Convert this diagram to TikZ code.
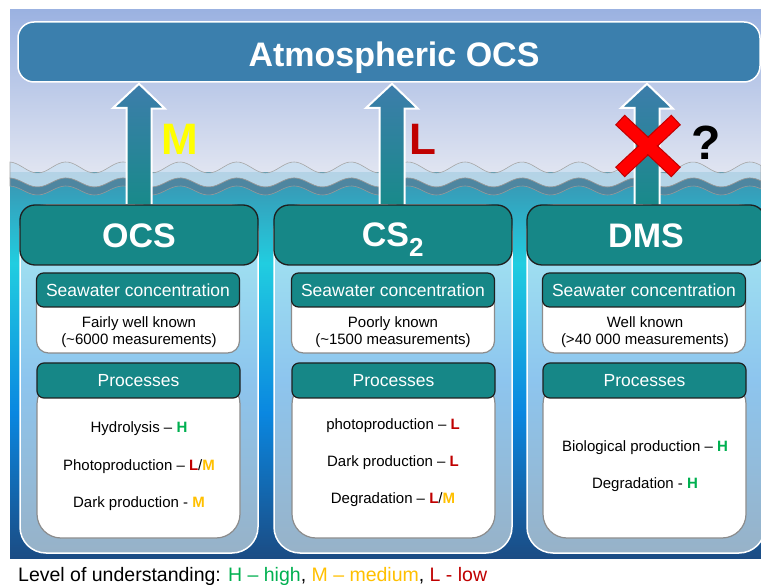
\documentclass[tikz,border=0pt]{standalone}
\usepackage{fontspec}
\setmainfont{Liberation Sans}
\usetikzlibrary{calc}
\definecolor{skytop}{HTML}{9BB2E1}
\definecolor{skybot}{HTML}{E1E5F1}
\definecolor{seaA}{HTML}{3B93B0}
\definecolor{seaB}{HTML}{21CDE0}
\definecolor{seaC}{HTML}{0A87E0}
\definecolor{seaD}{HTML}{1B4C84}
\definecolor{colT}{HTML}{A6EAF2}
\definecolor{colM}{HTML}{8DC5EE}
\definecolor{colB}{HTML}{97B2C8}
\definecolor{tealH}{HTML}{168787}
\definecolor{atmC}{HTML}{3B7FAD}
\definecolor{arrT}{HTML}{3D7DAB}
\definecolor{arrB}{HTML}{188A8A}
\definecolor{waveL}{HTML}{CADFF0}
\definecolor{waveD}{HTML}{4E86A0}
\definecolor{grn}{HTML}{00B050}
\definecolor{org}{HTML}{FFC000}
\definecolor{redL}{HTML}{C00000}
\definecolor{yelM}{HTML}{FFFF00}
\tikzset{
  fs/.style={font=\fontsize{#1}{#1}\selectfont},
  fsb/.style={font=\fontsize{#1}{#1}\selectfont\bfseries},
  colbox/.style={draw=white, line width=1.5pt, top color=colT, bottom color=colB, middle color=colM,
    rounded corners=26pt, minimum width=238pt, minimum height=348pt, inner sep=0pt},
  hdrbox/.style={draw=black!88, line width=1.3pt, fill=tealH, rounded corners=15pt,
    minimum width=238pt, minimum height=60pt, inner sep=0pt},
  subhdr/.style={draw=black!88, line width=1.2pt, fill=tealH, rounded corners=7pt,
    minimum width=203pt, minimum height=#1, inner sep=0pt},
  bodybox/.style={draw=black!45, line width=1.2pt, fill=white, rounded corners=#1,
    minimum width=203pt, inner sep=0pt},
  bigarrow/.style={draw=white, line width=2pt, top color=arrT, bottom color=arrB},
  ttl/.style={anchor=base, text=white, fsb=34},
  subt/.style={anchor=base, text=white, fs=17.5},
  bodyt/.style={anchor=base, text=black, fs=15},
  lvl/.style={anchor=base, fsb=44},
}
\begin{document}
\begin{tikzpicture}[x=1pt,y=-1pt]
\useasboundingbox (0,0) rectangle (761,585);
\clip (0,0) rectangle (761,585);
% background
\fill[white] (0,0) rectangle (761,585);
\fill[top color=skytop, bottom color=skybot] (10,10) rectangle (761,174);
\fill[top color=seaA, bottom color=seaB] (10,173) rectangle (761,263.5);
\fill[top color=seaB, bottom color=seaC] (10,263) rectangle (761,413.5);
\fill[top color=seaC, bottom color=seaD] (10,413) rectangle (761,558);
% waves
\draw[draw=black!35, line width=0.6pt, fill=waveL, fill opacity=0.85]
  plot[domain=10:761, samples=260] (\x,{167.5-5.5*cos(6.31579*(\x-237))})
  -- plot[domain=761:10, samples=260] (\x,{182.5-4.5*cos(6.31579*(\x-237))}) -- cycle;
\draw[draw=black!40, line width=0.6pt, fill=waveD]
  plot[domain=10:761, samples=260] (\x,{182.5-4.5*cos(6.31579*(\x-237))})
  -- plot[domain=761:10, samples=260] (\x,{190.5-4.5*cos(6.31579*(\x-237))}) -- cycle;
% atmosphere box
\node[draw=white, line width=1.5pt, fill=atmC, rounded corners=16pt, minimum width=742pt,
  minimum height=60pt, inner sep=0pt] (atm) at (389,52) {};
\node[ttl] (atmt) at (394,67) {Atmospheric OCS};
% column boxes
\node[colbox] (c1) at (139,379) {};
\node[colbox] (c2) at (393,379) {};
\node[colbox] (c3) at (646,379) {};
\coordinate (h1n) at (139,205);
\coordinate (h2n) at (392,205);
\coordinate (h3n) at (647,205);
% arrows
\foreach \h in {h1n,h2n,h3n}{
  \path[bigarrow] ([xshift=-12.5pt]\h) -- ++(0,-97) -- ++(-13.5,0)
    -- ([yshift=-1pt]\h |- atm.south) -- ++(26,25) -- ++(-13.5,0) -- ++(0,97) -- cycle;
}
% headers
\node[hdrbox] (h1) at (139,235) {};
\node[hdrbox] (h2) at (393,235) {};
\node[hdrbox] (h3) at (646,235) {};
\node[ttl] (h1t) at (139,248) {OCS};
\node[ttl] (h2t) at (393,247) {CS\textsubscript{\fontsize{26}{26}\selectfont 2}};
\node[ttl] (h3t) at (646,248) {DMS};
% seawater and processes boxes
\foreach \i/\x in {1/138,2/393,3/644}{
  \node[bodybox=12pt, minimum height=63pt] (sb\i) at (\x,321.5) {};
  \node[subhdr=34pt] (sh\i) at (\x,290) {};
  \node[subt] (sht\i) at (\x,297) {Seawater concentration};
  \node[bodybox=24pt, minimum height=158pt] (pb\i) at (\x+0.5,459) {};
  \node[subhdr=35pt] (ph\i) at (\x+0.5,380.5) {};
  \node[subt] (pht\i) at (\x+0.5,387) {Processes};
}
\node[bodyt] (s1a) at (139,328) {Fairly well known};
\node[bodyt] (s1b) at (139,345) {(\textasciitilde6000 measurements)};
\node[bodyt] (s2a) at (393,328) {Poorly known};
\node[bodyt] (s2b) at (393,345) {(\textasciitilde1500 measurements)};
\node[bodyt] (s3a) at (645,328) {Well known};
\node[bodyt] (s3b) at (645,345) {(>40 000 measurements)};
% processes text
\node[bodyt] (p1a) at (139,433) {Hydrolysis – \textbf{\textcolor{grn}{H}}};
\node[bodyt] (p1b) at (139,470) {Photoproduction – \textbf{\textcolor{redL}{L}}/\textbf{\textcolor{org}{M}}};
\node[bodyt] (p1c) at (139,507) {Dark production - \textbf{\textcolor{org}{M}}};
\node[bodyt] (p2a) at (393,430) {photoproduction – \textbf{\textcolor{redL}{L}}};
\node[bodyt] (p2b) at (393,467) {Dark production – \textbf{\textcolor{redL}{L}}};
\node[bodyt] (p2c) at (393,503) {Degradation – \textbf{\textcolor{redL}{L}}/\textbf{\textcolor{org}{M}}};
\node[bodyt] (p3a) at (645,452) {Biological production – \textbf{\textcolor{grn}{H}}};
\node[bodyt] (p3b) at (645,488) {Degradation - \textbf{\textcolor{grn}{H}}};
% flux labels
\node[lvl, text=yelM] (lm) at (180,155) {M};
\node[lvl, text=redL] (ll) at (423,155) {L};
\node[anchor=base, fsb=48, text=black] (lq) at (706,160) {?};
\node[draw=redL, line width=1pt, fill=red, minimum width=76pt, minimum height=13pt, inner sep=0pt, rotate=43] (xa) at (648,146) {};
\node[draw=redL, line width=1pt, fill=red, minimum width=76pt, minimum height=13pt, inner sep=0pt, rotate=-43] (xb) at (648,146) {};
\node[fill=red, minimum width=74pt, minimum height=11pt, inner sep=0pt, rotate=43] (xc) at (648,146) {};
% legend
\node[anchor=base west, fs=19.5, inner sep=0pt] (leg) at (18,581)
  {Level of understanding: \textcolor{grn}{H – high}, \textcolor{org}{M – medium}, \textcolor{redL}{L - low}};
\end{tikzpicture}
\end{document}
